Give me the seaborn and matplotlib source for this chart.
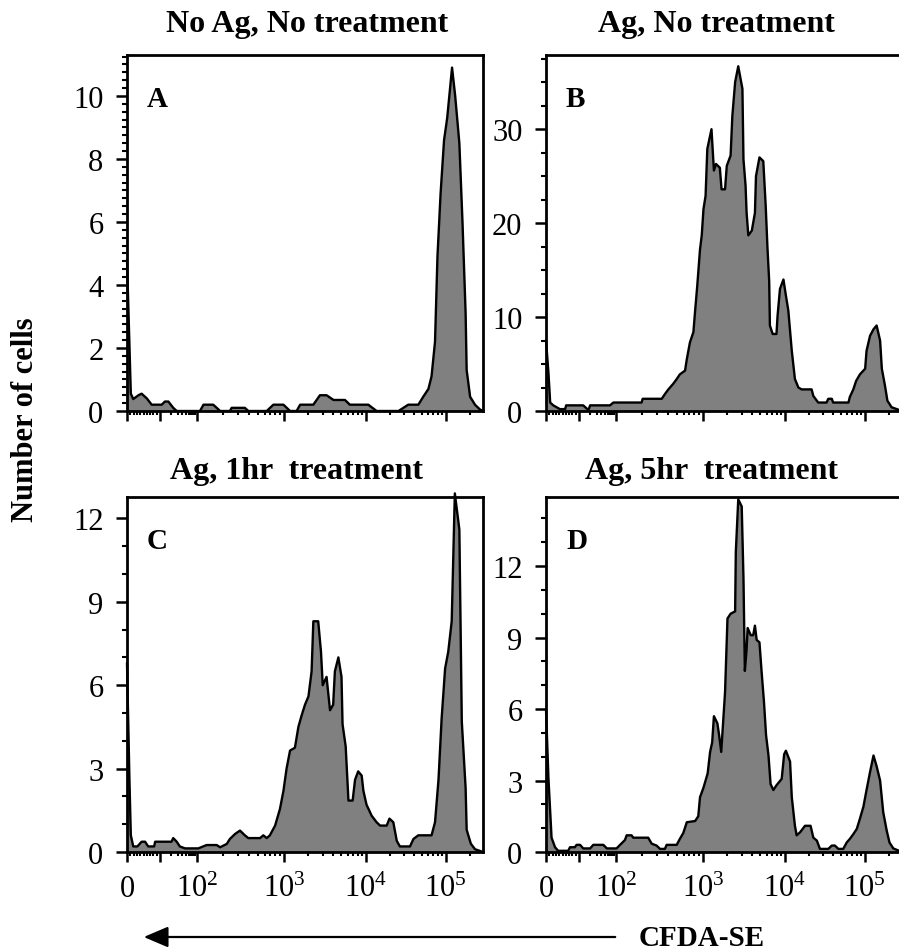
import numpy as np
import matplotlib
matplotlib.use("Agg")
import matplotlib.pyplot as plt
import seaborn as sns
from matplotlib.ticker import FixedLocator, FixedFormatter, MultipleLocator
from matplotlib.patches import FancyArrowPatch

sns.set_theme(style="ticks", rc={
    "text.color": "black", "axes.edgecolor": "black", "axes.labelcolor": "black",
    "xtick.color": "black", "ytick.color": "black",
})
plt.rcParams["font.family"] = ["Liberation Serif", "DejaVu Serif"]
plt.rcParams["mathtext.fontset"] = "custom"
plt.rcParams["mathtext.rm"] = "Liberation Serif"

# ---------------- data (x = display channel 0..1024 of the biexponential axis) ----------------
titles = ["No Ag, No treatment", "Ag, No treatment", "Ag, 1hr  treatment", "Ag, 5hr  treatment"]
letters = ["A", "B", "C", "D"]

a_chan = [0, 11, 18, 33, 42, 57, 71, 100, 109, 119, 133, 143, 210, 220, 248, 268, 296, 301, 339, 349,
          402, 421, 450, 469, 488, 498, 536, 555, 574, 594, 627, 641, 694, 718, 781, 809, 838, 852, 867, 876,
          886, 893, 902, 912, 921, 935, 944, 956, 965, 974, 977, 987, 1001, 1015, 1024]
a_count = [4.8, 0.55, 0.38, 0.5, 0.55, 0.4, 0.2, 0.2, 0.3, 0.3, 0.1, 0, 0, 0.2, 0.2, 0, 0, 0.1, 0.1, 0,
           0, 0.2, 0.2, 0, 0, 0.2, 0.2, 0.5, 0.5, 0.35, 0.35, 0.2, 0.2, 0, 0, 0.2, 0.2, 0.45, 0.7, 1.1,
           2.2, 4.9, 6.9, 8.6, 9.3, 10.9, 10.0, 8.5, 6.0, 3.1, 1.3, 0.45, 0.2, 0.05, 0]

b_chan = [0, 7, 12, 21, 40, 55, 58, 107, 122, 127, 184, 194, 275, 278, 333, 342, 352, 366, 376, 385,
          400, 405, 414, 424, 429, 435, 443, 448, 453, 459, 464, 476, 483, 489, 500, 505, 515, 520, 531, 536,
          544, 553, 565, 568, 574, 577, 582, 592, 601, 604, 614, 625, 632, 637, 642, 644, 652, 663, 666, 673,
          683, 690, 697, 707, 716, 726, 735, 764, 769, 779, 783, 807, 812, 822, 826, 870, 874, 884, 892, 903,
          918, 922, 932, 942, 951, 961, 966, 975, 982, 994, 1009, 1024]
b_count = [7.5, 4.1, 0.9, 0.6, 0.2, 0.2, 0.6, 0.6, 0.1, 0.6, 0.6, 0.9, 0.9, 1.3, 1.3, 1.8, 2.3, 2.9, 3.4, 3.9,
           4.3, 5.5, 7.3, 8.4, 10.7, 13.3, 17.2, 18.7, 21.5, 22.9, 27.9, 30, 25.6, 26.3, 25.9, 23.6, 23.6, 26.1, 27.2, 31.4,
           35, 36.7, 34.3, 26.8, 24, 21.1, 18.7, 19.2, 21.1, 25, 27, 26.6, 21.8, 17.4, 13.8, 9.1, 8.2, 8.2, 10.1, 13,
           14, 12.3, 10.7, 6.4, 3.4, 2.5, 2.3, 2.3, 1.6, 1.1, 0.9, 0.9, 1.3, 1.3, 0.9, 0.9, 1.5, 2.3, 3.2, 3.9,
           4.5, 6.4, 8, 8.7, 9.1, 7.5, 4.5, 2.7, 1.1, 0.4, 0.2, 0]

c_chan = [0, 7, 11, 18, 30, 42, 52, 61, 78, 81, 128, 133, 143, 152, 167, 205, 229, 258, 268, 287,
          296, 311, 325, 339, 349, 383, 392, 402, 411, 426, 440, 450, 459, 469, 483, 493, 502, 512, 522, 531,
          536, 550, 558, 563, 574, 584, 593, 598, 608, 617, 620, 629, 637, 649, 656, 665, 675, 680, 689, 704,
          718, 728, 747, 755, 766, 776, 785, 814, 824, 838, 876, 886, 896, 905, 915, 924, 934, 943, 956, 963,
          974, 977, 989, 1001, 1024]
c_count = [6.8, 2.6, 0.6, 0.2, 0.2, 0.37, 0.37, 0.2, 0.2, 0.37, 0.37, 0.5, 0.37, 0.2, 0.13, 0.13, 0.25, 0.25, 0.17, 0.29,
           0.47, 0.65, 0.77, 0.6, 0.5, 0.5, 0.6, 0.5, 0.6, 0.95, 1.55, 2.2, 3.0, 3.65, 3.75, 4.5, 4.9, 5.3, 5.6, 6.5,
           8.3, 8.3, 7.2, 6.0, 6.3, 5.1, 5.3, 6.5, 7.0, 6.3, 4.6, 3.8, 1.85, 1.85, 2.6, 2.9, 2.75, 2.2, 1.7, 1.3,
           1.07, 0.95, 0.95, 1.2, 1.07, 0.4, 0.2, 0.2, 0.47, 0.6, 0.6, 1.07, 2.6, 4.8, 6.6, 7.2, 8.3, 12.9, 11.6, 4.7,
           2.3, 0.8, 0.3, 0.1, 0]

d_chan = [0, 7, 16, 26, 35, 64, 69, 83, 88, 98, 107, 127, 136, 165, 175, 203, 213, 227, 232, 246,
          251, 294, 304, 318, 328, 342, 347, 376, 385, 395, 405, 429, 438, 443, 453, 465, 472, 478, 483, 493,
          498, 504, 515, 522, 531, 544, 546, 553, 563, 568, 572, 577, 580, 589, 596, 601, 606, 614, 620, 627,
          633, 640, 646, 654, 663, 678, 685, 690, 702, 707, 716, 721, 731, 745, 761, 769, 779, 788, 812, 822,
          831, 841, 855, 865, 874, 884, 894, 903, 913, 922, 932, 942, 951, 961, 970, 980, 988, 999, 1024]
d_count = [6.0, 3.1, 0.6, 0.2, 0.05, 0.05, 0.2, 0.2, 0.3, 0.3, 0.15, 0.15, 0.3, 0.3, 0.15, 0.15, 0.3, 0.5, 0.7, 0.7,
           0.6, 0.6, 0.35, 0.27, 0.13, 0.13, 0.3, 0.3, 0.55, 0.8, 1.25, 1.3, 1.5, 2.3, 2.7, 3.3, 4.2, 4.6, 5.7, 5.4,
           4.9, 4.2, 6.7, 9.8, 10.0, 10.1, 12.6, 14.8, 14.5, 11.5, 7.6, 8.5, 9.4, 9.1, 9.1, 9.5, 8.9, 8.8, 7.6, 6.3,
           4.9, 4.05, 2.85, 2.6, 2.8, 3.07, 4.1, 4.25, 3.8, 2.3, 1.1, 0.7, 0.83, 1.1, 1.1, 0.6, 0.48, 0.13, 0.13, 0.27,
           0.27, 0.13, 0.13, 0.4, 0.55, 0.75, 0.97, 1.4, 1.9, 2.6, 3.35, 4.05, 3.6, 3.0, 1.67, 0.9, 0.4, 0.15, 0]

x_tick_values = [0, 10, 100, 1000, 10000, 100000]
x_tick_labels = ["0", "", r"$\mathregular{10^{2}}$", r"$\mathregular{10^{3}}$",
                 r"$\mathregular{10^{4}}$", r"$\mathregular{10^{5}}$"]
y_major_step = [2, 10, 3, 3]
y_minor_step = [0.25, 2.5, 1, 1]
y_top = [11.3, 37.9, 12.77, 14.9]

# biexponential display mapping (value -> channel) used for tick placement
DEC_LOG = [1, 2, 3, 4, 5]
DEC_CH = [95, 201, 451, 687, 917]


def chan(v):
    v = np.asarray(v, dtype=float)
    lg = np.log10(np.maximum(v, 1e-9))
    out = np.interp(lg, DEC_LOG, DEC_CH)
    out = np.where(lg > 5, DEC_CH[-1] + (lg - 5) * 230, out)
    out = np.where(v < 10, v * 9.5, out)
    return out


minor_vals = [k for k in range(1, 10)] + [k * 10 ** e for e in range(1, 6) for k in range(2, 10)]
minor_ch = [c for c in chan(minor_vals) if c <= 1024]

# ---------------- figure ----------------
W, H = 899, 953
fig = plt.figure(figsize=(W / 100, H / 100), dpi=100)
fig.patch.set_facecolor("white")

boxes = [(127, 56, 356, 356), (546, 56, 356, 356), (127, 498, 356, 355), (546, 498, 356, 355)]
title_x = [0.506, 0.478, 0.475, 0.466]
title_pad = [17, 17, 13.5, 13.5]
datasets = [(a_chan, a_count), (b_chan, b_count), (c_chan, c_count), (d_chan, d_count)]

for i, (l, t, w, h) in enumerate(boxes):
    ax = fig.add_axes([l / W, 1 - (t + h) / H, w / W, h / H])
    xs, ys = datasets[i]
    ax.fill_between(xs, ys, 0, color="#808080", linewidth=0, zorder=2, clip_on=False)
    sns.lineplot(x=xs, y=ys, ax=ax, color="black", linewidth=1.7, sort=False, estimator=None, zorder=3)
    ax.lines[-1].set_clip_on(False)
    ax.set_xlim(0, 1024)
    ax.set_ylim(0, y_top[i])
    ax.set_xlabel("")
    ax.set_ylabel("")

    ax.xaxis.set_major_locator(FixedLocator(chan(x_tick_values)))
    ax.xaxis.set_major_formatter(FixedFormatter(x_tick_labels))
    ax.xaxis.set_minor_locator(FixedLocator(minor_ch))
    ax.yaxis.set_major_locator(MultipleLocator(y_major_step[i]))
    ax.yaxis.set_minor_locator(MultipleLocator(y_minor_step[i]))

    ax.tick_params(axis="x", which="major", direction="out", length=7, width=1.8, labelsize=22, pad=9,
                   labelbottom=(i >= 2))
    ax.tick_params(axis="x", which="minor", direction="out", length=3, width=1.5)
    ax.tick_params(axis="y", which="major", direction="out", length=8, width=1.8, labelsize=22, pad=9)
    ax.tick_params(axis="y", which="minor", direction="out", length=3.5, width=1.5)
    for s in ax.spines.values():
        s.set_linewidth(2)
        s.set_color("black")

    ax.set_title(titles[i], fontsize=23, fontweight="bold", x=title_x[i], pad=title_pad[i])
    ax.text(20 / w, 1 - 51 / h, letters[i], transform=ax.transAxes, fontsize=21,
            fontweight="bold", va="baseline", ha="left")

fig.text(26 / W, 1 - 420 / H, "Number of cells", rotation=90, ha="center", va="center",
         fontsize=22, fontweight="bold")
fig.text(639 / W, 1 - 952 / H, "CFDA-SE", ha="left", va="bottom", fontsize=21, fontweight="bold")
arrow = FancyArrowPatch((618 / W, 1 - 938 / H), (141 / W, 1 - 938 / H), transform=fig.transFigure,
                        arrowstyle="-|>,head_length=0.75,head_width=0.32", mutation_scale=20,
                        lw=1.6, color="black")
fig.add_artist(arrow)

fig.savefig("out.png", dpi=100)
